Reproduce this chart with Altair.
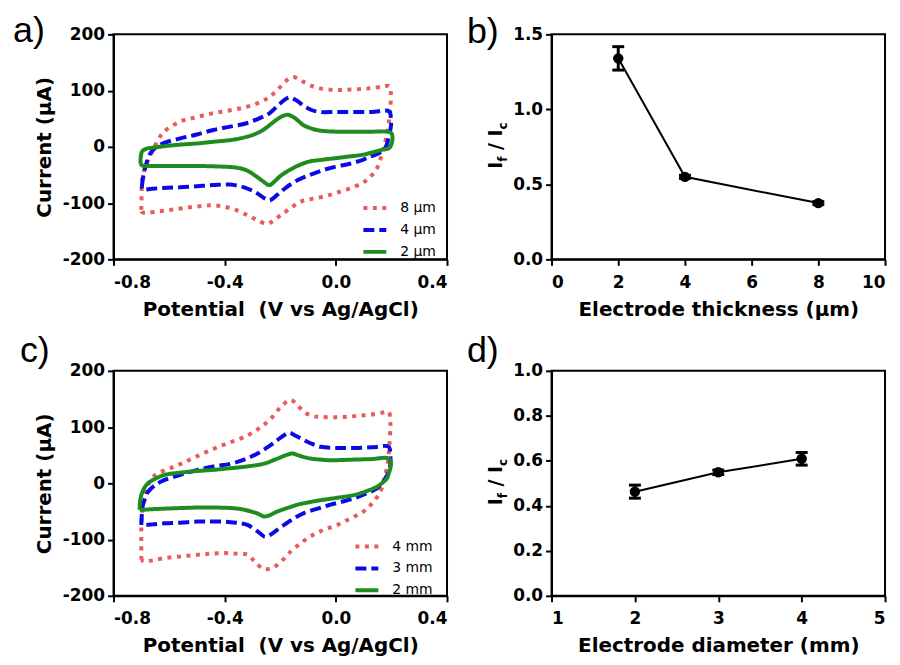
import altair as alt
import pandas as pd

FONT = "DejaVu Sans"
W, H = 335, 226
MINUS = "replace(datum.label, '\u2212', '-')"

# ---------------- Panel a: CV curves vs electrode thickness ----------------
a_labels = ["8 \u03bcm", "4 \u03bcm", "2 \u03bcm"]
a8_v = [-0.700, -0.699, -0.697, -0.685, -0.669, -0.650, -0.620, -0.560, -0.500, -0.441, -0.380, -0.321,
        -0.270, -0.238, -0.205, -0.175, -0.154, -0.135, -0.118, -0.090, -0.058, 0.001, 0.060, 0.121,
        0.170, 0.192, 0.198, 0.196, 0.192, 0.183, 0.174, 0.160, 0.145, 0.120, 0.097, 0.050, 0.001,
        -0.040, -0.090, -0.130, -0.166, -0.200, -0.230, -0.250, -0.275, -0.300, -0.321, -0.360, -0.405,
        -0.450, -0.500, -0.550, -0.596, -0.640, -0.679, -0.697, -0.700]
a8_i = [-112, -85, -58, -35, -17, 3, 26, 45, 53, 60, 65, 71,
        80, 89, 104, 119, 124, 121, 116, 109, 104, 101, 102, 104,
        107, 108, 95, 70, 48, 22, 0, -22, -41, -55, -64, -74, -82,
        -88, -93, -98, -110, -122, -133, -137, -132, -126, -121, -112, -106,
        -104, -106, -109, -112, -115, -117, -116, -112]
a4_v = [-0.698, -0.692, -0.685, -0.667, -0.632, -0.560, -0.500, -0.441, -0.380, -0.321, -0.270, -0.238,
        -0.205, -0.178, -0.165, -0.140, -0.118, -0.090, -0.058, 0.000, 0.061, 0.130, 0.192, 0.198,
        0.198, 0.190, 0.180, 0.156, 0.120, 0.097, 0.050, 0.001, -0.050, -0.094, -0.140, -0.178,
        -0.210, -0.238, -0.255, -0.285, -0.330, -0.381, -0.440, -0.500, -0.560, -0.620, -0.670,
        -0.695, -0.698]
a4_i = [-70, -50, -35, -11, 4, 15, 22, 30, 36, 42, 52, 60,
        75, 86, 88, 82, 74, 66, 62, 62, 62, 62, 63, 50,
        36, 18, 0, -11, -18, -23, -30, -35, -42, -50, -60, -72,
        -85, -95, -92, -82, -72, -67, -68, -70, -72, -73, -75,
        -76, -70]
a2_v = [-0.703, -0.702, -0.697, -0.680, -0.667, -0.620, -0.560, -0.500, -0.441, -0.380, -0.345, -0.300,
        -0.262, -0.235, -0.214, -0.190, -0.172, -0.150, -0.130, -0.118, -0.090, -0.058, 0.000, 0.061,
        0.130, 0.185, 0.200, 0.204, 0.200, 0.192, 0.168, 0.130, 0.097, 0.050, 0.001, -0.050, -0.094,
        -0.130, -0.166, -0.200, -0.226, -0.240, -0.260, -0.285, -0.320, -0.357, -0.420, -0.500, -0.560,
        -0.620, -0.680, -0.697, -0.703]
a2_i = [-30, -18, -8, -3, -2, 1, 4, 6, 9, 12, 15, 21,
        30, 40, 48, 55, 57, 52, 44, 39, 33, 29, 27, 27,
        27, 27, 24, 16, 5, -2, -5, -10, -14, -17, -20, -23, -26,
        -32, -41, -52, -64, -68, -62, -53, -42, -37, -35, -34, -34,
        -34, -34, -33, -30]

# ---------------- Panel c: CV curves vs electrode diameter ----------------
c_labels = ["4 mm", "3 mm", "2 mm"]
c4_v = [-0.700, -0.700, -0.700, -0.698, -0.690, -0.676, -0.660, -0.640, -0.600, -0.556, -0.500, -0.437,
        -0.380, -0.318, -0.270, -0.234, -0.200, -0.174, -0.160, -0.140, -0.115, -0.085, -0.055, 0.029,
        0.080, 0.124, 0.170, 0.190, 0.196, 0.196, 0.193, 0.190, 0.185, 0.178, 0.170, 0.160, 0.135,
        0.100, 0.050, 0.005, -0.040, -0.079, -0.120, -0.162, -0.210, -0.240, -0.262, -0.290, -0.318,
        -0.360, -0.401, -0.450, -0.497, -0.560, -0.616, -0.660, -0.688, -0.700]
c4_i = [-136, -110, -80, -56, -30, -3, 10, 18, 26, 35, 48, 62,
        73, 85, 100, 115, 135, 146, 148, 140, 127, 120, 118, 118,
        120, 122, 126, 127, 110, 97, 70, 50, 30, 15, 0, -15, -33,
        -50, -63, -74, -82, -91, -104, -121, -145, -152, -152, -140, -127,
        -125, -124, -125, -127, -130, -133, -137, -139, -136]
c3_v = [-0.700, -0.698, -0.694, -0.685, -0.676, -0.650, -0.616, -0.560, -0.497, -0.440, -0.377, -0.330,
        -0.282, -0.240, -0.210, -0.185, -0.168, -0.150, -0.115, -0.085, -0.055, 0.000, 0.064, 0.130,
        0.190, 0.196, 0.196, 0.188, 0.178, 0.165, 0.148, 0.110, 0.064, 0.020, -0.019, -0.060, -0.115,
        -0.150, -0.186, -0.215, -0.234, -0.255, -0.275, -0.318, -0.360, -0.401, -0.450, -0.497, -0.560,
        -0.616, -0.660, -0.688, -0.700]
c3_i = [-74, -55, -38, -25, -15, -3, 6, 15, 24, 30, 35, 42,
        53, 66, 77, 86, 90, 86, 77, 70, 65, 63, 63, 64,
        65, 50, 32, 18, 9, 0, -9, -18, -27, -33, -38, -44, -53,
        -62, -74, -84, -91, -95, -88, -74, -70, -68, -68, -68, -70,
        -71, -73, -74, -74]
c2_v = [-0.706, -0.705, -0.700, -0.690, -0.676, -0.650, -0.616, -0.560, -0.497, -0.440, -0.377, -0.320,
        -0.258, -0.215, -0.174, -0.156, -0.130, -0.091, -0.050, -0.019, 0.050, 0.124, 0.190, 0.198,
        0.196, 0.190, 0.184, 0.170, 0.148, 0.110, 0.064, 0.000, -0.055, -0.100, -0.138, -0.175, -0.210,
        -0.240, -0.258, -0.280, -0.306, -0.340, -0.377, -0.440, -0.497, -0.560, -0.616, -0.660, -0.694,
        -0.706]
c2_i = [-47, -35, -21, -9, 0, 8, 15, 19, 22, 24, 27, 30,
        35, 43, 51, 53, 49, 44, 42, 41, 42, 43, 44, 35,
        27, 17, 9, 2, -6, -14, -21, -26, -30, -34, -38, -44, -50,
        -57, -59, -54, -50, -46, -44, -43, -43, -44, -45, -46, -47,
        -47]

# ---------------- Panels b and d: If/Ic ratios ----------------
thickness = [2, 4, 8]
ratio_b = [1.34, 0.55, 0.375]
err_b = [0.078, 0.01, 0.01]

diameter = [2, 3, 4]
ratio_d = [0.463, 0.549, 0.609]
err_d = [0.029, 0.01, 0.028]

COLORS = ["#EA5B5B", "#0A0AE6", "#1E8C1E"]
DASHES = [[4, 5.5], [11, 5], [1, 0]]


def letter_layer(letter, dx, dy):
    return alt.Chart(pd.DataFrame({"t": [letter]})).mark_text(
        font="Liberation Sans", fontSize=36, align="left", baseline="alphabetic", color="black"
    ).encode(text="t:N", x=alt.value(dx), y=alt.value(dy))


def cv_panel(curves, labels, letter, lx, ly, ldx, ldy):
    rows = []
    for lab, (vs, cs) in zip(labels, curves):
        for k, (v, c) in enumerate(zip(vs, cs)):
            rows.append({"series": lab, "V": v, "I": c, "idx": k})
    df = pd.DataFrame(rows)
    leg = alt.Legend(title=None, orient="none", legendX=lx, legendY=ly, symbolType="stroke",
                     symbolSize=529, symbolStrokeWidth=4, labelFont=FONT, labelFontSize=14,
                     labelFontWeight="normal", labelColor="black", labelOffset=12, rowPadding=-5,
                     padding=0)
    lines = alt.Chart(df).mark_line(strokeWidth=4, interpolate="catmull-rom").encode(
        x=alt.X("V:Q", scale=alt.Scale(domain=[-0.8, 0.4], nice=False, zero=False),
                axis=alt.Axis(values=[-0.8, -0.4, 0.0, 0.4], format=".1f", labelExpr=MINUS,
                              title="Potential\u00a0 (V vs Ag/AgCl)")),
        y=alt.Y("I:Q", scale=alt.Scale(domain=[-200, 200], nice=False, zero=False),
                axis=alt.Axis(values=[-200, -100, 0, 100, 200], labelExpr=MINUS,
                              title="Current (\u03bcA)")),
        color=alt.Color("series:N", scale=alt.Scale(domain=labels, range=COLORS), legend=leg,
                        sort=labels),
        strokeDash=alt.StrokeDash("series:N", scale=alt.Scale(domain=labels, range=DASHES),
                                  legend=leg, sort=labels),
        order=alt.Order("idx:Q"),
    )
    return alt.layer(lines, letter_layer(letter, ldx, ldy)).properties(width=W, height=H)


def ratio_title_layers():
    pieces = [("I", 19, -50, 135), ("f", 12, -45, 127.9), ("/ I", 19, -50, 116.1), ("c", 12, -45, 95.5)]
    out = []
    for txt, fs, px, py in pieces:
        out.append(alt.Chart(pd.DataFrame({"t": [txt]})).mark_text(
            font=FONT, fontSize=fs, fontWeight="bold", angle=270, align="left",
            baseline="alphabetic", color="black"
        ).encode(text="t:N", x=alt.value(px), y=alt.value(py)))
    return out


def ratio_panel(xs, ys, errs, xdom, xvals, ydom, yvals, xtitle, letter, ldx, ldy):
    df = pd.DataFrame({"x": xs, "y": ys,
                       "lo": [y - e for y, e in zip(ys, errs)],
                       "hi": [y + e for y, e in zip(ys, errs)]})
    xs_ = alt.Scale(domain=xdom, nice=False, zero=False)
    ys_ = alt.Scale(domain=ydom, nice=False, zero=False)
    xenc = alt.X("x:Q", scale=xs_, axis=alt.Axis(values=xvals, format="d", title=xtitle))
    yax = alt.Axis(values=yvals, format=".1f", title="")
    base = alt.Chart(df)
    line = base.mark_line(color="black", strokeWidth=2).encode(
        x=xenc, y=alt.Y("y:Q", scale=ys_, axis=yax))
    bars = base.mark_rule(color="black", strokeWidth=3).encode(
        x=xenc, y=alt.Y("lo:Q", scale=ys_, axis=yax), y2="hi:Q")
    cap_lo = base.mark_tick(orient="horizontal", size=12, thickness=3, color="black", opacity=1).encode(
        x=xenc, y=alt.Y("lo:Q", scale=ys_, axis=yax))
    cap_hi = base.mark_tick(orient="horizontal", size=12, thickness=3, color="black", opacity=1).encode(
        x=xenc, y=alt.Y("hi:Q", scale=ys_, axis=yax))
    pts = base.mark_circle(size=110, color="black", opacity=1).encode(
        x=xenc, y=alt.Y("y:Q", scale=ys_, axis=yax))
    layers = [line, bars, cap_lo, cap_hi, pts] + ratio_title_layers() + [letter_layer(letter, ldx, ldy)]
    return alt.layer(*layers).properties(width=W, height=H)


pa = cv_panel([(a8_v, a8_i), (a4_v, a4_i), (a2_v, a2_i)], a_labels, "a)", 249, 161, -101, 8)
pc = cv_panel([(c4_v, c4_i), (c3_v, c3_i), (c2_v, c2_i)], c_labels, "c)", 241, 163, -94, -9)
pb = ratio_panel(thickness, ratio_b, err_b, [0, 10], [0, 2, 4, 6, 8, 10], [0, 1.5], [0, 0.5, 1.0, 1.5],
                 "Electrode thickness (\u03bcm)", "b)", -85, 9)
pd_ = ratio_panel(diameter, ratio_d, err_d, [1, 5], [1, 2, 3, 4, 5], [0, 1.0], [0, 0.2, 0.4, 0.6, 0.8, 1.0],
                  "Electrode diameter (mm)", "d)", -85, -9)

chart = alt.concat(pa, pb, pc, pd_, columns=2, spacing={"row": 112, "column": 105},
                   bounds="flush").resolve_scale(
    color="independent", strokeDash="independent", x="independent", y="independent"
).properties(
    padding={"left": 4, "top": 3, "right": 5, "bottom": 5}, background="white"
).configure_view(stroke="black", strokeWidth=2).configure_axis(
    domainColor="black", domainWidth=2, tickColor="black", tickWidth=2, tickSize=6,
    labelFont=FONT, labelFontSize=17, labelFontWeight="bold", labelColor="black",
    titleFont=FONT, titleFontSize=20, titleFontWeight="bold", titleColor="black", grid=False
).configure_axisX(labelPadding=9, titlePadding=9).configure_axisY(labelPadding=3, titlePadding=8)

chart.save("out.html", embed_options={"renderer": "svg", "actions": False})
